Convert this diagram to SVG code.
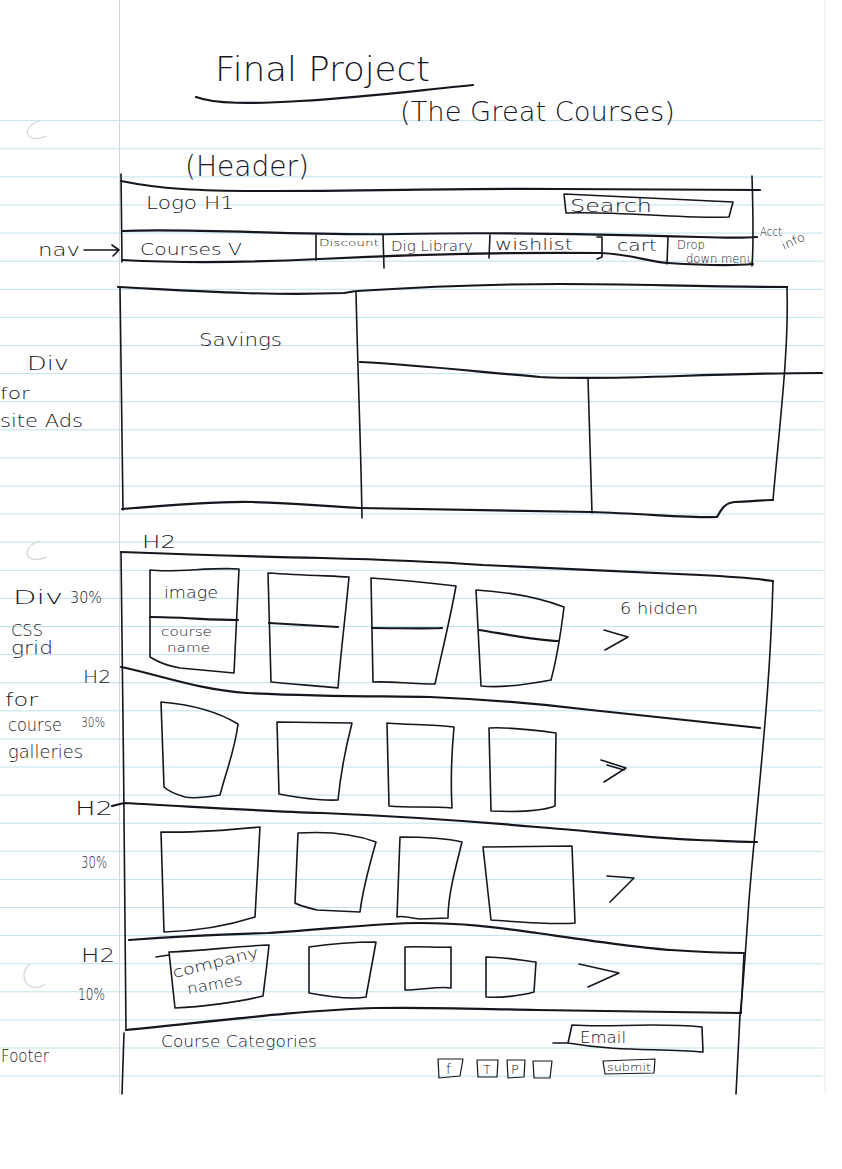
<svg xmlns="http://www.w3.org/2000/svg" width="842" height="1169" viewBox="0 0 842 1169">
  <defs>
    <style>
      .ink { fill: none; stroke: #16161f; stroke-width: 1.6; stroke-linecap: round; stroke-linejoin: round; }
      .heavy { stroke-width: 2.2; }
      .thin { stroke-width: 1.2; }
      .hand { font-family: "DejaVu Sans", "Liberation Sans", sans-serif; fill: #16161f; font-weight: 300; }
      .rule { stroke: #bfe3ea; stroke-width: 1; }
      .margin { stroke: #d9d4da; stroke-width: 1; }
      .hole { fill: none; stroke: #d4d4d8; stroke-width: 1.2; }
    </style>
  </defs>

  <rect width="842" height="1169" fill="#ffffff"/>

  <!-- ruled notebook paper -->
  <g id="paper">
    <g id="rules">
      <line class="rule" x1="0" y1="120.7" x2="823" y2="120.7"/>
      <line class="rule" x1="0" y1="148.8" x2="823" y2="148.8"/>
      <line class="rule" x1="0" y1="176.9" x2="823" y2="176.9"/>
      <line class="rule" x1="0" y1="205" x2="823" y2="205"/>
      <line class="rule" x1="0" y1="233.1" x2="823" y2="233.1"/>
      <line class="rule" x1="0" y1="261.2" x2="823" y2="261.2"/>
      <line class="rule" x1="0" y1="289.3" x2="823" y2="289.3"/>
      <line class="rule" x1="0" y1="317.4" x2="823" y2="317.4"/>
      <line class="rule" x1="0" y1="345.5" x2="823" y2="345.5"/>
      <line class="rule" x1="0" y1="373.6" x2="823" y2="373.6"/>
      <line class="rule" x1="0" y1="401.7" x2="823" y2="401.7"/>
      <line class="rule" x1="0" y1="429.8" x2="823" y2="429.8"/>
      <line class="rule" x1="0" y1="457.9" x2="823" y2="457.9"/>
      <line class="rule" x1="0" y1="486" x2="823" y2="486"/>
      <line class="rule" x1="0" y1="514.1" x2="823" y2="514.1"/>
      <line class="rule" x1="0" y1="542.2" x2="823" y2="542.2"/>
      <line class="rule" x1="0" y1="570.3" x2="823" y2="570.3"/>
      <line class="rule" x1="0" y1="598.4" x2="823" y2="598.4"/>
      <line class="rule" x1="0" y1="626.5" x2="823" y2="626.5"/>
      <line class="rule" x1="0" y1="654.6" x2="823" y2="654.6"/>
      <line class="rule" x1="0" y1="682.7" x2="823" y2="682.7"/>
      <line class="rule" x1="0" y1="710.8" x2="823" y2="710.8"/>
      <line class="rule" x1="0" y1="738.9" x2="823" y2="738.9"/>
      <line class="rule" x1="0" y1="767" x2="823" y2="767"/>
      <line class="rule" x1="0" y1="795.1" x2="823" y2="795.1"/>
      <line class="rule" x1="0" y1="823.2" x2="823" y2="823.2"/>
      <line class="rule" x1="0" y1="851.3" x2="823" y2="851.3"/>
      <line class="rule" x1="0" y1="879.4" x2="823" y2="879.4"/>
      <line class="rule" x1="0" y1="907.5" x2="823" y2="907.5"/>
      <line class="rule" x1="0" y1="935.6" x2="823" y2="935.6"/>
      <line class="rule" x1="0" y1="963.7" x2="823" y2="963.7"/>
      <line class="rule" x1="0" y1="991.8" x2="823" y2="991.8"/>
      <line class="rule" x1="0" y1="1019.9" x2="823" y2="1019.9"/>
      <line class="rule" x1="0" y1="1048" x2="823" y2="1048"/>
      <line class="rule" x1="0" y1="1076.1" x2="823" y2="1076.1"/>
    </g>
    <line class="margin" x1="119.5" y1="0" x2="119.5" y2="1094"/>
    <line class="margin" x1="825" y1="0" x2="825" y2="1094" opacity="0.5"/>
    <path class="hole" d="M40,121 C28,124 24,134 30,137 C35,140 42,138 47,136"/>
    <path class="hole" d="M40,541 C28,544 24,554 30,558 C35,561 42,559 47,557"/>
    <path class="hole" d="M30,964 C22,970 22,982 30,986 C35,989 41,987 46,984"/>
  </g>

  <!-- title -->
  <g id="title">
    <text class="hand" x="215" y="81" font-size="34" textLength="215" lengthAdjust="spacingAndGlyphs">Final Project</text>
    <path class="ink heavy" d="M196,97 C215,104 250,104 300,101 C370,97 420,90 473,85"/>
    <text class="hand" x="400" y="121" font-size="26" textLength="275" lengthAdjust="spacingAndGlyphs">(The Great Courses)</text>
  </g>

  <!-- page header block -->
  <g id="header">
    <text class="hand" x="185" y="176" font-size="28" textLength="124" lengthAdjust="spacingAndGlyphs">(Header)</text>
    <path class="ink heavy" d="M121,181 C160,189 200,191 260,191 C380,191 460,188 560,189 C640,190 700,190 760,190"/>
    <path class="ink" d="M121,174 L122,262"/>
    <path class="ink" d="M752,176 C753,210 754,240 752,266"/>
    <text class="hand" x="146" y="209" font-size="18" textLength="88" lengthAdjust="spacingAndGlyphs">Logo H1</text>
  </g>

  <g id="search">
    <path class="ink" d="M564,194 L733,202 L729,217 C680,219 620,211 566,213 Z"/>
    <text class="hand" x="570" y="212" font-size="17" textLength="82" lengthAdjust="spacingAndGlyphs">Search</text>
  </g>

  <!-- navigation bar -->
  <g id="nav">
    <path class="ink heavy" d="M122,231 C200,228 300,236 400,234 C500,232 600,234 700,237 C730,238 745,238 757,237"/>
    <path class="ink heavy" d="M122,260 C180,263 260,262 320,259 C400,255 500,252 600,253 C630,254 650,262 668,263 C700,265 730,266 753,264"/>
    <path class="ink" d="M316,235 L316,260"/>
    <path class="ink" d="M383,235 L384,268"/>
    <path class="ink" d="M490,235 L489,258"/>
    <path class="ink" d="M597,237 L602,237 L602,257 L597,259"/>
    <path class="ink" d="M668,237 L667,264"/>
    <text class="hand" x="140" y="255" font-size="16" textLength="102" lengthAdjust="spacingAndGlyphs">Courses V</text>
    <text class="hand" x="319" y="246" font-size="9" textLength="60" lengthAdjust="spacingAndGlyphs">Discount</text>
    <text class="hand" x="391" y="251" font-size="14" textLength="82" lengthAdjust="spacingAndGlyphs">Dig Library</text>
    <text class="hand" x="495" y="250" font-size="15" textLength="78" lengthAdjust="spacingAndGlyphs">wishlist</text>
    <text class="hand" x="617" y="251" font-size="15" textLength="40" lengthAdjust="spacingAndGlyphs">cart</text>
    <text class="hand" x="677" y="249" font-size="13" textLength="28" lengthAdjust="spacingAndGlyphs">Drop</text>
    <text class="hand" x="686" y="263" font-size="12" textLength="68" lengthAdjust="spacingAndGlyphs">down menu</text>
    <text class="hand" x="760" y="236" font-size="12" textLength="22" lengthAdjust="spacingAndGlyphs">Acct</text>
    <text class="hand" x="784" y="250" font-size="12" textLength="24" lengthAdjust="spacingAndGlyphs" transform="rotate(-25 784 250)">info</text>
    <text class="hand" x="38" y="256" font-size="18" textLength="42" lengthAdjust="spacingAndGlyphs">nav</text>
  </g>

  <!-- site ads block -->
  <g id="site-ads">
    <path class="ink heavy" d="M118,287 C180,290 260,296 344,293 C350,292 355,291 357,291 C420,287 480,284 560,284 C640,284 700,287 787,287"/>
    <path class="ink" d="M120,287 L123,510"/>
    <path class="ink heavy" d="M122,509 C170,505 220,501 252,502 C300,503 330,507 360,508 C450,510 530,511 591,512 C650,514 690,518 717,517 C722,508 725,503 735,502 C750,501 765,500 773,500"/>
    <path class="ink" d="M787,287 C789,350 780,420 773,500"/>
    <path class="ink" d="M356,292 C358,380 361,450 362,518"/>
    <path class="ink heavy" d="M360,362 C420,365 480,372 540,377 C580,379 620,378 680,376 C740,374 790,373 822,373"/>
    <path class="ink" d="M588,378 L592,513"/>
    <text class="hand" x="199" y="346" font-size="18" textLength="83" lengthAdjust="spacingAndGlyphs">Savings</text>
    <text class="hand" x="27" y="370" font-size="20" textLength="42" lengthAdjust="spacingAndGlyphs">Div</text>
    <text class="hand" x="0" y="399" font-size="16" textLength="30" lengthAdjust="spacingAndGlyphs">for</text>
    <text class="hand" x="0" y="427" font-size="18" textLength="83" lengthAdjust="spacingAndGlyphs">site Ads</text>
  </g>

  <!-- course galleries container -->
  <g id="galleries">
    <text class="hand" x="142" y="548" font-size="18" textLength="34" lengthAdjust="spacingAndGlyphs">H2</text>
    <path class="ink heavy" d="M121,552 C200,555 270,557 322,558 C400,560 440,562 483,565 C560,569 620,571 700,575 C740,577 760,579 773,581"/>
    <path class="ink" d="M121,552 C123,700 125,900 126,1030 M124,1033 L122,1094"/>
    <path class="ink" d="M773,581 C770,700 757,800 749,900 C745,960 742,1000 740,1015 L736,1094"/>
    <text class="hand" x="13" y="604" font-size="20" textLength="50" lengthAdjust="spacingAndGlyphs">Div</text>
    <text class="hand" x="70" y="603" font-size="15" textLength="32" lengthAdjust="spacingAndGlyphs">30%</text>
    <text class="hand" x="11" y="636" font-size="15" textLength="32" lengthAdjust="spacingAndGlyphs">CSS</text>
    <text class="hand" x="11" y="654" font-size="17" textLength="42" lengthAdjust="spacingAndGlyphs">grid</text>
    <text class="hand" x="5" y="706" font-size="17" textLength="33" lengthAdjust="spacingAndGlyphs">for</text>
    <text class="hand" x="8" y="731" font-size="17" textLength="54" lengthAdjust="spacingAndGlyphs">course</text>
    <text class="hand" x="81" y="727" font-size="14" textLength="24" lengthAdjust="spacingAndGlyphs">30%</text>
    <text class="hand" x="8" y="758" font-size="17" textLength="75" lengthAdjust="spacingAndGlyphs">galleries</text>
  </g>

  <!-- gallery row 1 -->
  <g id="row-1">
    <path class="ink" d="M150,570 C175,573 210,567 239,569 L234,673 L180,668 C168,666 158,662 150,657 Z"/>
    <path class="ink heavy" d="M150,617 C180,617 210,620 238,620"/>
    <text class="hand" x="164" y="598" font-size="16" textLength="54" lengthAdjust="spacingAndGlyphs">image</text>
    <text class="hand" x="161" y="636" font-size="12" textLength="51" lengthAdjust="spacingAndGlyphs">course</text>
    <text class="hand" x="167" y="652" font-size="13" textLength="43" lengthAdjust="spacingAndGlyphs">name</text>

    <path class="ink" d="M268,573 C300,575 330,576 349,577 C345,620 340,660 338,688 C320,686 290,684 271,682 Z"/>
    <path class="ink heavy" d="M269,623 L338,627"/>
    <path class="ink" d="M371,578 C400,580 430,583 456,586 C450,620 440,660 435,684 C410,684 390,681 373,682 Z"/>
    <path class="ink heavy" d="M372,628 C400,628 420,629 442,628"/>
    <path class="ink" d="M476,590 C510,592 540,598 564,607 C560,640 555,665 551,680 C530,684 500,688 481,686 Z"/>
    <path class="ink heavy" d="M479,630 C510,635 535,640 558,641"/>

    <path class="ink" d="M604,630 L628,637 L605,650"/>
    <text class="hand" x="620" y="614" font-size="15" textLength="78" lengthAdjust="spacingAndGlyphs">6 hidden</text>

    <path class="ink heavy" d="M121,667 C160,675 200,690 247,693 C330,697 380,696 430,697 C500,700 550,705 591,710 C660,717 720,724 760,728"/>
    <text class="hand" x="83" y="683" font-size="18" textLength="28" lengthAdjust="spacingAndGlyphs">H2</text>
  </g>

  <!-- gallery row 2 -->
  <g id="row-2">
    <path class="ink" d="M161,702 C185,704 215,710 238,724 C235,750 225,775 220,795 C208,797 195,799 185,797 C175,794 168,791 164,787 Z"/>
    <path class="ink" d="M277,722 L352,723 C345,750 340,780 338,800 C320,801 295,797 279,794 Z"/>
    <path class="ink" d="M387,723 C410,725 430,724 454,727 C451,760 451,790 452,808 C430,806 410,808 389,806 Z"/>
    <path class="ink" d="M489,728 C510,727 535,730 556,733 L555,806 C540,812 515,812 491,811 Z"/>
    <path class="ink" d="M601,760 L626,768 L604,782 M607,765 L624,770"/>

    <path class="ink heavy" d="M112,806 L124,803 C200,807 260,811 322,813 C420,817 480,822 537,827 C600,832 650,838 698,840 C725,841 745,842 757,842"/>
    <text class="hand" x="75" y="815" font-size="20" textLength="38" lengthAdjust="spacingAndGlyphs">H2</text>
  </g>

  <!-- gallery row 3 -->
  <g id="row-3">
    <path class="ink" d="M161,832 C195,833 230,830 260,827 L255,917 C230,925 200,931 164,932 Z"/>
    <path class="ink" d="M298,833 C330,831 355,834 376,842 C368,870 362,895 360,912 L317,910 C305,907 298,905 295,903 Z"/>
    <path class="ink" d="M400,837 C420,837 445,838 462,842 C455,870 448,895 448,918 L420,919 C410,918 400,915 397,917 Z"/>
    <path class="ink" d="M483,847 L572,846 L575,923 C555,925 520,922 491,920 Z"/>
    <path class="ink" d="M607,876 L634,878 L610,902"/>
    <text class="hand" x="81" y="868" font-size="15" textLength="26" lengthAdjust="spacingAndGlyphs">30%</text>
  </g>

  <!-- company names row -->
  <g id="row-4">
    <path class="ink heavy" d="M129,940 C180,936 230,934 268,933 C330,929 380,923 419,923 C470,923 500,928 537,933 C600,942 640,948 671,950 C700,952 720,953 744,953"/>
    <path class="ink" d="M744,953 L741,1013"/>
    <path class="ink heavy" d="M126,1030 C200,1023 300,1010 376,1008 C430,1007 480,1009 537,1010 C620,1011 690,1012 741,1013"/>
    <text class="hand" x="81" y="962" font-size="20" textLength="34" lengthAdjust="spacingAndGlyphs">H2</text>
    <text class="hand" x="78" y="1000" font-size="15" textLength="27" lengthAdjust="spacingAndGlyphs">10%</text>

    <path class="ink" d="M156,957 L169,955 M169,952 C200,951 240,946 269,945 C267,965 265,980 263,996 C240,1002 200,1007 175,1008 Z"/>
    <text class="hand" x="174" y="978" font-size="15" textLength="88" lengthAdjust="spacingAndGlyphs" transform="rotate(-14 174 978)">company</text>
    <text class="hand" x="188" y="994" font-size="15" textLength="56" lengthAdjust="spacingAndGlyphs" transform="rotate(-10 188 994)">names</text>
    <path class="ink" d="M309,947 C330,944 355,942 376,942 L366,997 C350,1000 325,996 309,993 Z"/>
    <path class="ink" d="M405,947 C420,946 440,948 451,947 L451,988 C440,986 420,990 405,990 Z"/>
    <path class="ink" d="M486,957 C505,957 520,960 536,962 L534,992 C520,996 500,998 486,997 Z"/>
    <path class="ink" d="M579,964 L619,973 L588,987"/>
  </g>

  <!-- footer -->
  <g id="footer">
    <text class="hand" x="1" y="1062" font-size="17" textLength="48" lengthAdjust="spacingAndGlyphs">Footer</text>
    <text class="hand" x="161" y="1047" font-size="16" textLength="156" lengthAdjust="spacingAndGlyphs">Course Categories</text>
  </g>

  <g id="email">
    <path class="ink" d="M553,1043 L568,1043 L572,1025 C610,1028 650,1022 702,1027 L703,1052 C660,1048 620,1052 568,1043"/>
    <text class="hand" x="580" y="1043" font-size="15" textLength="46" lengthAdjust="spacingAndGlyphs">Email</text>
  </g>

  <g id="submit">
    <path class="ink thin" d="M603,1061 L655,1059 L654,1073 L605,1074 Z"/>
    <text class="hand" x="607" y="1071" font-size="10" textLength="44" lengthAdjust="spacingAndGlyphs">submit</text>
  </g>

  <g id="social">
    <path class="ink thin" d="M438,1059 L463,1059 L460,1076 L439,1078 Z"/>
    <text class="hand" x="446" y="1074" font-size="14">f</text>
    <path class="ink thin" d="M477,1060 L498,1060 L497,1077 L478,1077 Z"/>
    <text class="hand" x="483" y="1074" font-size="13">T</text>
    <path class="ink thin" d="M507,1060 L525,1060 L524,1077 L508,1078 Z"/>
    <text class="hand" x="511" y="1074" font-size="13">P</text>
    <path class="ink thin" d="M533,1061 L552,1061 L550,1078 L534,1078 Z"/>
  </g>

  <!-- pointer arrows -->
  <g id="connectors">
    <path class="ink" d="M84,250 L119,250 M112,245 L119,250 L113,256"/>
  </g>
</svg>
